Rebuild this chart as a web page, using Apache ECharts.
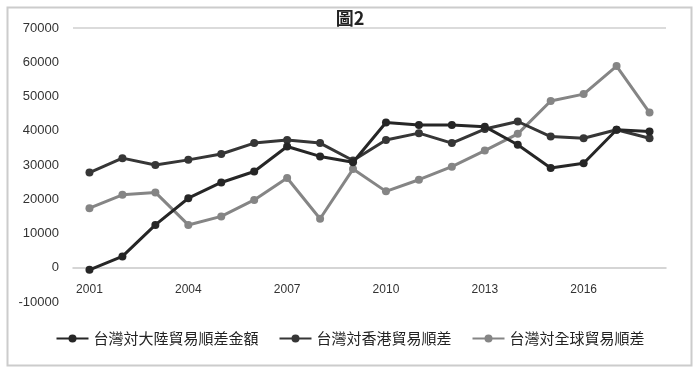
<!DOCTYPE html>
<html>
<head>
<meta charset="utf-8">
<script src="https://cdn.jsdelivr.net/npm/echarts@6/dist/echarts.min.js"></script>
<style>html,body{margin:0;padding:0;background:#fff}#c{width:700px;height:370px}</style>
</head>
<body>
<div id="c"></div>
<script>
const titleText = '圖2';
const years = ['2001','2002','2003','2004','2005','2006','2007','2008','2009','2010','2011','2012','2013','2014','2015','2016','2017','2018'];
const seriesNames = ['台灣対大陸貿易順差金額', '台灣対香港貿易順差', '台灣対全球貿易順差'];
const chinaSurplus = [-600, 3300, 12500, 20300, 24900, 28100, 35400, 32500, 30800, 42400, 41700, 41700, 41200, 35900, 29100, 30500, 40300, 39800];
const hongKongSurplus = [27800, 32000, 30000, 31500, 33200, 36400, 37300, 36400, 31300, 37300, 39300, 36400, 40500, 42700, 38300, 37800, 40300, 37800];
const globalSurplus = [17400, 21300, 22000, 12500, 15000, 19800, 26200, 14300, 28800, 22300, 25700, 29500, 34200, 39100, 48700, 50700, 58900, 45300];
const yMin = -10000, yMax = 70000, yStep = 10000;

const colors = ['#262626', '#363636', '#858585'];
const fontFamily = '"Noto Sans CJK TC", "Noto Sans", sans-serif';

const chart = echarts.init(document.getElementById('c'));
const mk = (name, data, i) => ({
  name: name, type: 'line', data: data,
  symbol: 'circle', symbolSize: 8,
  lineStyle: { width: 3, color: colors[i] },
  itemStyle: { color: colors[i] },
  z: 3 - i
});
const splitColors = [];
for (let v = yMin; v <= yMax; v += yStep) splitColors.push(v === yMax ? '#cfcfcf' : 'rgba(0,0,0,0)');

chart.setOption({
  backgroundColor: '#fff',
  animation: false,
  color: colors,
  textStyle: { fontFamily: fontFamily },
  title: {
    text: titleText, left: 'center', top: 4,
    textStyle: { fontSize: 18, fontWeight: 'bold', color: '#222', fontFamily: fontFamily }
  },
  graphic: [{
    type: 'rect', left: 5, top: 5, z: -1,
    shape: { width: 684, height: 358 },
    style: { fill: 'none', stroke: '#cccccc', lineWidth: 2 }
  }],
  legend: {
    data: seriesNames, left: 'center', top: 326,
    itemWidth: 32, itemHeight: 10, itemGap: 20,
    textStyle: { fontSize: 15, color: '#222', fontFamily: fontFamily }
  },
  grid: { left: 73, right: 34, top: 28, bottom: 68, containLabel: false },
  xAxis: {
    type: 'category', data: years, boundaryGap: true,
    axisLine: { onZero: true, lineStyle: { color: '#c8c8c8', width: 1.5 } },
    axisTick: { show: false },
    axisLabel: { interval: 2, color: '#333', fontSize: 12, margin: -18, fontFamily: 'Liberation Sans, Arial, sans-serif' }
  },
  yAxis: {
    type: 'value', min: yMin, max: yMax, interval: yStep,
    axisLine: { show: false }, axisTick: { show: false },
    axisLabel: { color: '#333', fontSize: 13, margin: 14, fontFamily: 'Liberation Sans, Arial, sans-serif',
      formatter: function (v) { return String(v); } },
    splitLine: { show: true, lineStyle: { color: splitColors, width: 1.5 } }
  },
  series: [
    mk(seriesNames[0], chinaSurplus, 0),
    mk(seriesNames[1], hongKongSurplus, 1),
    mk(seriesNames[2], globalSurplus, 2)
  ]
});
</script>
</body>
</html>
